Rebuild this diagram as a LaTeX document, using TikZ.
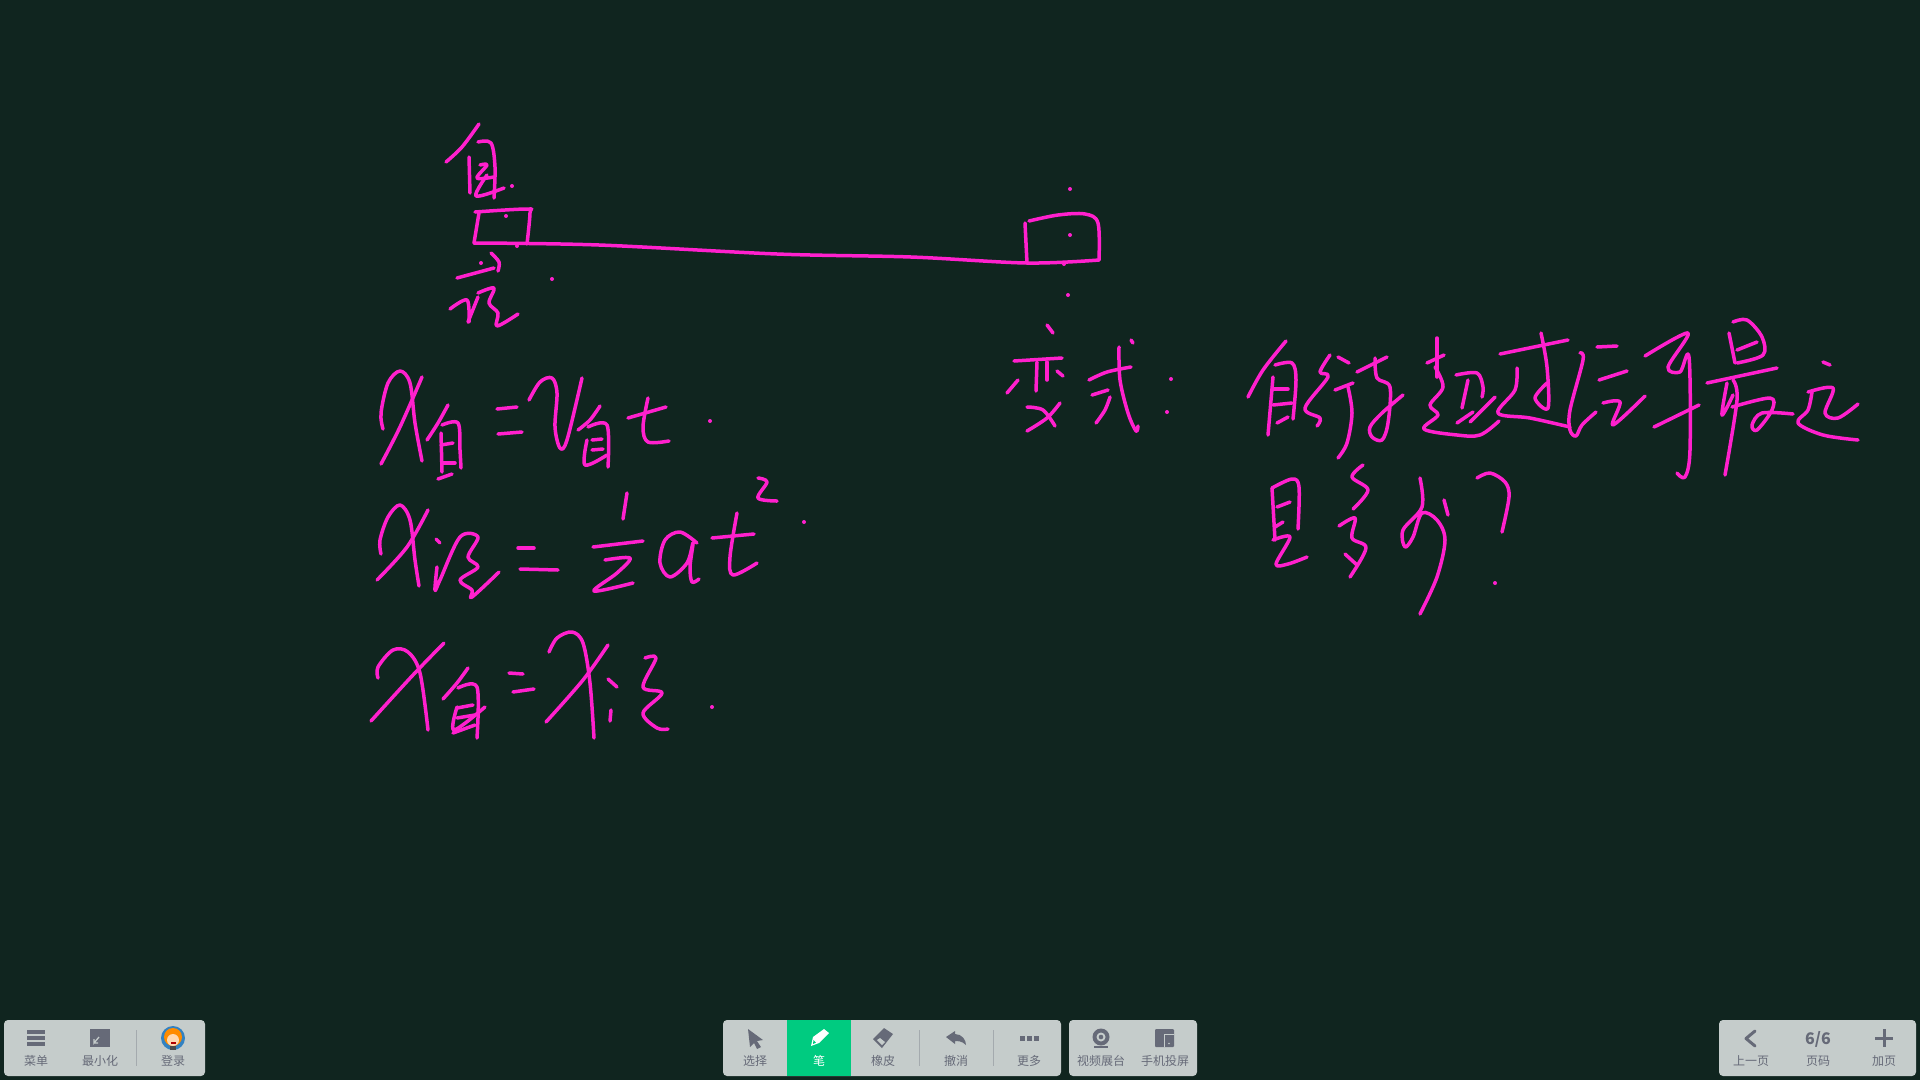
\documentclass[tikz,border=0pt]{standalone}
\usepackage{fontspec}
\setmainfont{Noto Sans CJK SC}
\usetikzlibrary{calc}

\definecolor{board}{RGB}{16,37,31}
\definecolor{pen}{RGB}{255,32,205}
\definecolor{barbg}{RGB}{197,204,203}
\definecolor{barfg}{RGB}{102,106,120}
\definecolor{active}{RGB}{0,203,128}

\newcommand{\stroke}[1]{\draw[ink] plot[smooth,tension=0.55] coordinates {#1};}
\newcommand{\inkdot}[1]{\fill[pen] (#1) circle (2pt);}

\begin{document}
\begin{tikzpicture}[x=1pt,y=-1pt,
ink/.style={draw=pen, line width=3.5pt, line cap=round, line join=round},
panel/.style={rectangle, fill=barbg, rounded corners=4pt, inner sep=0pt, minimum height=56pt},
label/.style={inner sep=0pt, text=barfg, font=\fontsize{12}{14}\selectfont},
divider/.style={draw=barfg!35!barbg, line width=0.8pt},
icon/.style={fill=barfg, draw=none},
iconline/.style={draw=barfg, line width=3pt, line cap=round, line join=round}]

	\fill[board] (0,0) rectangle (1920,1080);
	\useasboundingbox (0,0) rectangle (1920,1080);

	% bars
	\node[panel, minimum width=201pt] (leftbar) at (104.5,1048) {};
	\node[panel, minimum width=338pt] (toolbar) at (892,1048) {};
	\node[panel, minimum width=128pt] (castbar) at (1133,1048) {};
	\node[panel, minimum width=197pt] (pagebar) at (1817.5,1048) {};
	\node[rectangle, fill=active, inner sep=0pt, minimum width=64pt, minimum height=56pt] (penbox) at (819,1048) {};

	% labels
	\node[label] (menu) at (36,1061) {菜单};
	\node[label] (minimize) at (100,1061) {最小化};
	\node[label] (login) at (173,1061) {登录};
	\node[label] (select) at (755,1061) {选择};
	\node[label, text=white] (pentext) at (819,1061) {笔};
	\node[label] (eraser) at (883,1061) {橡皮};
	\node[label] (undo) at (956,1061) {撤消};
	\node[label] (more) at (1029,1061) {更多};
	\node[label] (booth) at (1101,1061) {视频展台};
	\node[label] (cast) at (1165,1061) {手机投屏};
	\node[label] (prev) at (1751,1061) {上一页};
	\node[label] (pageno) at (1818,1061) {页码};
	\node[label] (addpage) at (1884,1061) {加页};
	\node[label, font=\fontsize{16}{18}\selectfont\bfseries] (count) at (1818,1039) {6/6};

	\draw[divider] (136,1030) -- (136,1066);
	\draw[divider] (919,1030) -- (919,1066);
	\draw[divider] (993,1030) -- (993,1066);

	% icons
	\fill[icon] (27,1030) rectangle (45,1034);
	\fill[icon] (27,1036) rectangle (45,1040);
	\fill[icon] (27,1042) rectangle (45,1046);
	\fill[icon] (90,1029) rectangle (110,1047);
	\draw[draw=barbg, line width=1.3pt] (99,1037) -- (94,1043) -- (94,1039) (94,1043) -- (98,1043);
	\fill[blue!45!cyan!70!black!80] (173,1038) ellipse (12pt and 12pt);
	\fill[orange!90!yellow] (173,1037) circle (9pt);
	\fill[orange!30!white] (173,1040) circle (6pt);
	\fill[red!70!black] (170.5,1042) rectangle (175.5,1044);
	\fill[black!70] (170,1046) rectangle (176,1050);
	\fill[icon] (748,1029) -- (763,1040) -- (757,1041) -- (761,1047) -- (757,1049) -- (754,1043) -- (750,1047) -- cycle;
	\fill[white] (811,1046) -- (813,1037) -- (824,1029) -- (829,1033) -- (819,1043) -- cycle;
	\fill[active] (813.5,1040) -- (816,1042.5) -- (813,1044) -- cycle;
	\fill[icon] (873,1039) -- (884,1028) -- (893,1034) -- (882,1048) -- cycle;
	\fill[barbg] (877,1040) -- (880,1038) -- (885,1042) -- (882,1045) -- cycle;
	\fill[icon] (946,1037) -- (955,1031) -- (955,1034) .. controls (962,1034) and (966,1040) .. (966,1045) .. controls (962,1041) and (958,1041) .. (955,1041) -- (955,1044) -- cycle;
	\fill[icon] (1019.5,1035.5) rectangle (1024.5,1040.5);
	\fill[icon] (1026.5,1035.5) rectangle (1031.5,1040.5);
	\fill[icon] (1033.5,1035.5) rectangle (1038.5,1040.5);
	\fill[icon] (1101,1037) circle (8.5pt);
	\fill[icon] (1094,1046) rectangle (1108,1048);
	\fill[barbg] (1101,1037) circle (4.5pt);
	\fill[icon] (1101,1037) circle (2.3pt);
	\fill[icon, rounded corners=1pt] (1155,1029) rectangle (1174,1047);
	\draw[barbg, line width=0.8pt] (1164,1047) -- (1164,1034) -- (1174,1034);
	\fill[barbg] (1169,1043.5) circle (0.9pt);
	\draw[iconline] (1755,1031) -- (1746,1038.5) -- (1755,1046);
	\draw[iconline, line cap=butt] (1875,1038) -- (1893,1038) (1884,1029) -- (1884,1047);

	% sketch: two blocks on a line
	\stroke{(479,124) (462,147) (446,162)}
	\stroke{(478,142) (491,143) (495,167) (494,198)}
	\stroke{(469,157) (470,193)}
	\stroke{(480,165) (487,165) (477,178) (494,177)}
	\stroke{(487,175) (476,196) (504,188)}
	\inkdot{512,186}
	\stroke{(475,212) (527,209) (530,213) (527,244)}
	\stroke{(479,213) (474,243)}
	\stroke{(474,243) (599,245) (777,254) (911,257) (1027,263) (1099,260)}
	\stroke{(1029,221) (1058,215) (1085,214) (1098,223) (1099,260)}
	\stroke{(1025,223) (1027,263)}
	\inkdot{506,216}
	\inkdot{517,246}
	\inkdot{552,279}
	\inkdot{1070,189}
	\inkdot{1070,235}
	\inkdot{1064,264}
	\inkdot{1068,295}
	\stroke{(491,253) (499,262) (498,271)}
	\inkdot{481,263}
	\stroke{(457,278) (494,268)}
	\stroke{(450,309) (467,300) (469,322)}
	\stroke{(468,322) (478,297)}
	\stroke{(478,293) (494,288) (489,303) (498,313) (497,326) (518,314)}

	% first formula
	\stroke{(383,429) (381,413) (388,383) (400,371) (410,383) (415,423) (422,461)}
	\stroke{(422,377) (400,427) (381,464)}
	\stroke{(448,405) (438,423) (427,440)}
	\stroke{(442,425) (458,423) (460,450) (461,468)}
	\stroke{(441,433) (442,472)}
	\stroke{(441,445) (453,443)}
	\stroke{(442,463) (455,463)}
	\stroke{(438,479) (452,474)}
	\stroke{(497,409) (517,407)}
	\stroke{(498,434) (522,432)}
	\stroke{(529,400) (540,382) (552,378) (557,393) (555,427) (560,448) (567,440) (582,378)}
	\stroke{(600,406) (590,420) (578,430)}
	\stroke{(588,427) (607,425) (608,467)}
	\stroke{(587,440) (585,465) (607,455)}
	\stroke{(592,440) (602,439)}
	\stroke{(592,450) (603,449)}
	\stroke{(628,418) (666,407)}
	\stroke{(648,398) (643,427) (648,442) (669,441)}
	\inkdot{710,421}

	% second formula
	\stroke{(381,554) (380,540) (388,517) (400,505) (410,520) (415,560) (419,586)}
	\stroke{(428,510) (407,547) (377,580)}
	\stroke{(436,539) (440,543)}
	\stroke{(437,567) (435,590) (440,580) (460,537) (478,537) (468,557) (478,567) (460,580) (472,590) (472,597) (499,572)}
	\stroke{(518,548) (534,548)}
	\stroke{(520,569) (558,570)}
	\stroke{(627,493) (623,519)}
	\stroke{(593,547) (643,541)}
	\stroke{(605,560) (630,558) (617,573) (594,591) (633,583)}
	\stroke{(697,543) (680,532) (665,540) (660,563) (670,577) (687,563) (693,543) (690,567) (692,582) (699,579)}
	\stroke{(712,538) (754,534)}
	\stroke{(737,513) (730,557) (733,575) (757,563)}
	\stroke{(758,478) (767,482) (758,498) (777,501)}
	\inkdot{804,522}

	% third formula
	\stroke{(378,678) (378,667) (393,650) (408,652) (420,673) (428,730)}
	\stroke{(444,643) (413,675) (371,721)}
	\stroke{(468,668) (457,683) (443,699)}
	\stroke{(458,688) (477,687) (477,738)}
	\stroke{(457,707) (454,730) (485,707)}
	\stroke{(457,708) (473,705)}
	\stroke{(457,718) (475,715)}
	\stroke{(453,733) (475,725)}
	\stroke{(509,673) (523,674)}
	\stroke{(513,692) (534,689)}
	\stroke{(549,652) (557,638) (572,632) (583,643) (590,683) (594,738)}
	\stroke{(608,645) (583,680) (546,722)}
	\stroke{(608,679) (617,687)}
	\stroke{(611,710) (610,721)}
	\stroke{(645,658) (656,658) (643,687) (662,693) (643,713) (657,728) (668,729)}
	\inkdot{712,707}

	% question, first line
	\stroke{(1047,325) (1053,333)}
	\stroke{(1014,361) (1062,358)}
	\stroke{(1037,362) (1036,391)}
	\stroke{(1047,362) (1047,380)}
	\stroke{(1057,371) (1063,376)}
	\stroke{(1018,380) (1007,393)}
	\stroke{(1027,407) (1043,410) (1055,426)}
	\stroke{(1060,403) (1047,418) (1027,431)}
	\stroke{(1089,380) (1107,372) (1131,367)}
	\stroke{(1119,347) (1120,380) (1128,413) (1136,431) (1138,426)}
	\stroke{(1131,340) (1133,343)}
	\stroke{(1092,395) (1108,390)}
	\stroke{(1110,397) (1105,410) (1096,423)}
	\inkdot{1171,379}
	\inkdot{1167,412}
	\stroke{(1286,341) (1263,370) (1248,397)}
	\stroke{(1275,365) (1292,363) (1296,380) (1293,419)}
	\stroke{(1273,377) (1268,435)}
	\stroke{(1273,389) (1288,389)}
	\stroke{(1273,405) (1292,403)}
	\stroke{(1277,423) (1288,417)}
	\stroke{(1330,355) (1320,372) (1328,377) (1305,408) (1320,418) (1317,426)}
	\stroke{(1338,357) (1349,363)}
	\stroke{(1335,390) (1353,383)}
	\stroke{(1348,387) (1352,413) (1347,443) (1338,458)}
	\stroke{(1357,372) (1387,357)}
	\stroke{(1375,358) (1377,378) (1390,387) (1388,423) (1382,440) (1372,437) (1370,427) (1382,413) (1403,395)}
	\stroke{(1437,338) (1437,377)}
	\stroke{(1427,363) (1444,355)}
	\stroke{(1435,367) (1443,387) (1430,405) (1438,415) (1424,429) (1457,435) (1480,435) (1499,421)}
	\stroke{(1456,375) (1477,373) (1483,387) (1482,397)}
	\stroke{(1468,380) (1462,408)}
	\stroke{(1457,423) (1473,412)}
	\stroke{(1470,422) (1495,397)}
	\stroke{(1500,354) (1568,340)}
	\stroke{(1541,333) (1547,367) (1548,408) (1535,398) (1547,383)}
	\stroke{(1517,368) (1515,390) (1498,413) (1530,418) (1570,427)}
	\stroke{(1580,353) (1583,360) (1570,410) (1570,430) (1576,436) (1582,425) (1596,412)}
	\stroke{(1597,347) (1617,346)}
	\stroke{(1599,380) (1627,371)}
	\stroke{(1603,403) (1620,402) (1613,425) (1645,396)}
	\stroke{(1645,356) (1688,333) (1668,367) (1680,372) (1689,357) (1690,450) (1685,477) (1677,473)}
	\stroke{(1654,427) (1699,405)}
	\stroke{(1733,322) (1747,320) (1762,337) (1763,355) (1737,363)}
	\stroke{(1729,333) (1735,363)}
	\stroke{(1737,350) (1757,342)}
	\stroke{(1707,383) (1777,368)}
	\stroke{(1733,380) (1737,400) (1725,475)}
	\stroke{(1727,383) (1722,415) (1733,395)}
	\stroke{(1732,407) (1770,398) (1772,410) (1757,430) (1752,425) (1762,413) (1793,414)}
	\stroke{(1823,362) (1830,365)}
	\stroke{(1808,392) (1833,388) (1825,413) (1838,418) (1858,404)}
	\stroke{(1812,392) (1808,410) (1798,423) (1823,435) (1858,440)}

	% question, second line
	\stroke{(1272,488) (1292,479) (1299,487) (1298,529)}
	\stroke{(1272,488) (1275,540)}
	\stroke{(1277,507) (1290,502)}
	\stroke{(1275,527) (1283,522)}
	\stroke{(1273,540) (1290,537) (1276,564) (1288,564) (1307,557)}
	\stroke{(1363,465) (1352,477) (1368,490) (1353,509)}
	\stroke{(1339,526) (1355,518) (1352,538) (1366,548) (1350,577)}
	\stroke{(1345,554) (1357,565)}
	\stroke{(1420,478) (1422,507) (1403,530) (1405,547) (1413,537) (1422,513) (1437,520) (1445,540) (1437,577) (1420,614)}
	\stroke{(1444,500) (1448,515)}
	\stroke{(1477,478) (1490,473) (1505,482) (1509,497) (1502,532)}
	\inkdot{1495,583}
\end{tikzpicture}
\end{document}
